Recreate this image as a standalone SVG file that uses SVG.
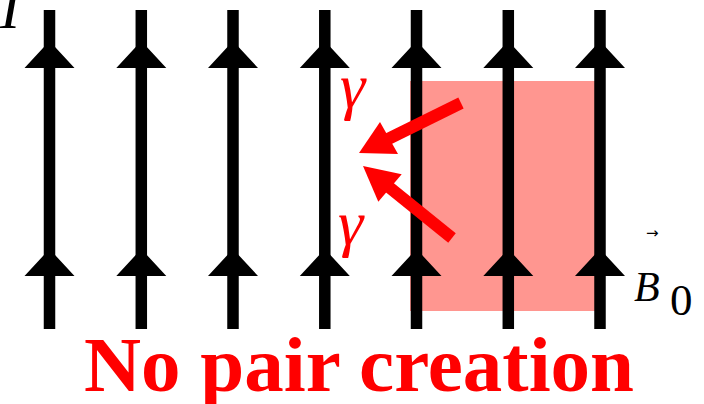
<svg xmlns="http://www.w3.org/2000/svg" width="704" height="404" viewBox="0 0 704 404">
<style>
text{font-family:"Liberation Serif","Times New Roman",serif}
.field{stroke:#000;stroke-width:11.5}
.head{fill:#000}
.ph{stroke:#ff0000;stroke-width:12}
.phh{fill:#ff0000}
.gam{font-style:italic;font-size:64px;fill:#ff0000}
</style>
<g id="labels">
<text x="0" y="28" style="font-family:'Liberation Serif',serif;font-style:italic;font-size:60px">I</text>
<text class="gam" x="340" y="107">γ</text>
<text class="gam" x="338" y="244">γ</text>
<text x="634" y="301" style="font-family:'Liberation Serif',serif;font-style:italic;font-size:42px">B</text>
<text x="670" y="315" style="font-family:'Liberation Serif',serif;font-size:45px">0</text>
<text x="646" y="238" style="font-family:'DejaVu Sans',sans-serif;font-size:15px">→</text>
<text x="84" y="391" style="font-family:'Liberation Serif',serif;font-weight:bold;font-size:79px;fill:#ff0000">No pair creation</text>
</g>
<rect id="region" x="410" y="81" width="186" height="230" fill="#ff9690"/>
<g id="fieldlines">
<g id="line1"><line class="field" x1="49.5" y1="10" x2="49.5" y2="329"/><path class="head" d="M49.5,41 l25,27 h-50 Z M49.5,249 l25,27 h-50 Z"/></g>
<g id="line2"><line class="field" x1="141.3" y1="10" x2="141.3" y2="329"/><path class="head" d="M141.3,41 l25,27 h-50 Z M141.3,249 l25,27 h-50 Z"/></g>
<g id="line3"><line class="field" x1="233" y1="10" x2="233" y2="329"/><path class="head" d="M233,41 l25,27 h-50 Z M233,249 l25,27 h-50 Z"/></g>
<g id="line4"><line class="field" x1="324.8" y1="10" x2="324.8" y2="329"/><path class="head" d="M324.8,41 l25,27 h-50 Z M324.8,249 l25,27 h-50 Z"/></g>
<g id="line5"><line class="field" x1="416.5" y1="10" x2="416.5" y2="329"/><path class="head" d="M416.5,41 l25,27 h-50 Z M416.5,249 l25,27 h-50 Z"/></g>
<g id="line6"><line class="field" x1="508.3" y1="10" x2="508.3" y2="329"/><path class="head" d="M508.3,41 l25,27 h-50 Z M508.3,249 l25,27 h-50 Z"/></g>
<g id="line7"><line class="field" x1="600" y1="10" x2="600" y2="329"/><path class="head" d="M600,41 l25,27 h-50 Z M600,249 l25,27 h-50 Z"/></g>
</g>
<g id="photons">
<g id="photon1"><line class="ph" x1="461" y1="103" x2="385" y2="140.5"/><polygon class="phh" points="359,153 380,122 398,154"/></g>
<g id="photon2"><line class="ph" x1="452" y1="238" x2="387" y2="185.5"/><polygon class="phh" points="363,166 401.7,174.3 378.3,201.7"/></g>
</g>
</svg>
